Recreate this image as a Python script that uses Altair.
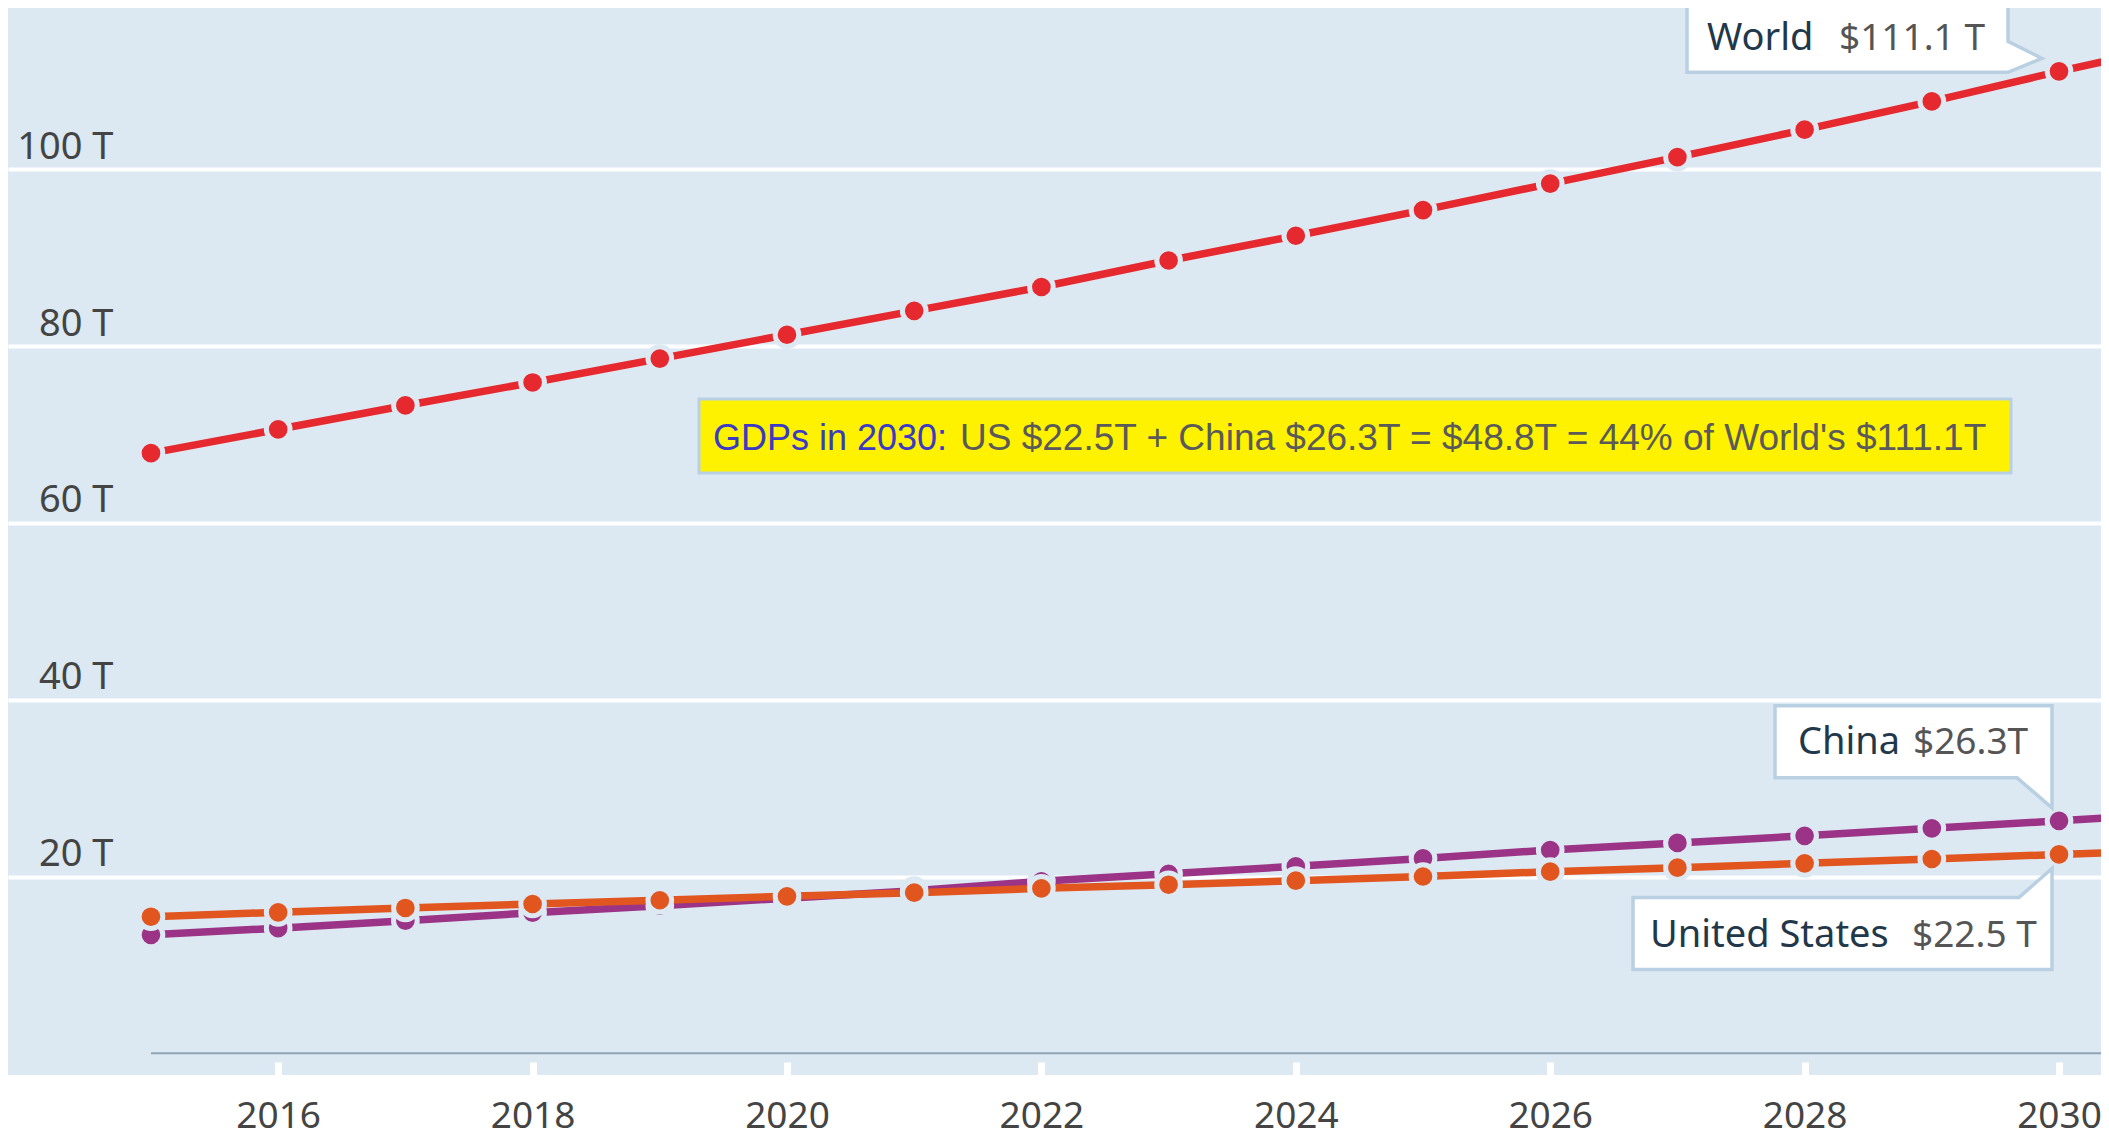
import altair as alt
import pandas as pd

# ---------------- data ----------------
years = list(range(2015, 2032))
world = [67.9, 70.6, 73.3, 75.9, 78.6, 81.3, 84.0, 86.7, 89.7, 92.5, 95.4, 98.4, 101.4, 104.5, 107.7, 111.1, 114.3]
china = [13.4, 14.15, 15.0, 15.9, 16.7, 17.55, 18.4, 19.45, 20.3, 21.15, 22.05, 23.0, 23.8, 24.6, 25.45, 26.3, 27.2]
usa = [15.45, 15.95, 16.44, 16.89, 17.31, 17.76, 18.17, 18.66, 19.07, 19.53, 20.0, 20.55, 21.0, 21.49, 21.98, 22.5, 23.0]

series_names = ["World", "China", "United States"]
series_values = [world, china, usa]
series_colors = ["#e6282f", "#9b3486", "#e1551f"]
callout_values = ["$111.1 T", "$26.3T", "$22.5 T"]
callout_year = 2030

y_ticks = [20, 40, 60, 80, 100]
x_ticks = [2016, 2018, 2020, 2022, 2024, 2026, 2028, 2030]

note_head = "GDPs in 2030:"
note_body = "US $22.5T + China $26.3T = $48.8T = 44% of World's $111.1T"

# ---------------- styling ----------------
BG = "#dde9f2"
BORDER = "#b9d0e2"
FONT = "Noto Sans"
W, H = 2093, 1067

rows = []
for name, vals in zip(series_names, series_values):
    for yr, v in zip(years, vals):
        rows.append({"year": yr, "value": v, "series": name})
df = pd.DataFrame(rows)

xscale = alt.Scale(domain=[2013.876, 2030.33], nice=False, zero=False)
yscale = alt.Scale(domain=[-2.46, 118.27], nice=False, zero=False)

xaxis = alt.Axis(values=x_ticks, format="d", grid=False, domain=False, ticks=True,
                 tickColor="white", tickWidth=7, tickSize=13, offset=-13,
                 labelPadding=52, labelBaseline="alphabetic", labelFont=FONT,
                 labelFontSize=37, labelColor="#444444", title=None)
yaxis = alt.Axis(values=y_ticks, labelExpr="datum.value + ' T'", grid=True,
                 gridColor="white", gridWidth=4, domain=False, ticks=False, tickSize=0,
                 labelAlign="right", labelBaseline="alphabetic", labelPadding=-105,
                 labelOffset=-11, labelFont=FONT, labelFontSize=38,
                 labelColor="#444444", title=None)

X = alt.X("year:Q", scale=xscale, axis=xaxis)
Y = alt.Y("value:Q", scale=yscale, axis=yaxis)

layers = []

# zero baseline
base_df = pd.DataFrame({"year": [years[0]], "year2": [years[-1]], "value": [0]})
layers.append(alt.Chart(base_df).mark_rule(color="#8fa5b5", strokeWidth=2, clip=True).encode(
    x=X, x2="year2:Q", y=Y))

# yellow note box
note_df = pd.DataFrame({"head": [note_head], "body": [note_body]})
layers.append(alt.Chart(note_df).mark_rect(fill="#fff200", stroke=BORDER, strokeWidth=3).encode(
    x=alt.value(691), x2=alt.value(2003), y=alt.value(391), y2=alt.value(465)))
layers.append(alt.Chart(note_df).mark_text(font="Liberation Sans", fontSize=36, color="#3a3ac4",
                                           align="left", baseline="alphabetic").encode(
    x=alt.value(705), y=alt.value(442), text="head:N"))
layers.append(alt.Chart(note_df).mark_text(font="Liberation Sans", fontSize=37, color="#5a5a5a",
                                           align="left", baseline="alphabetic").encode(
    x=alt.value(952), y=alt.value(442), text="body:N"))

# series lines + points (World, China, United States drawn in that order)
for name, col in zip(series_names, series_colors):
    sub = alt.Chart(df).transform_filter(alt.datum.series == name)
    layers.append(sub.mark_line(color=col, strokeWidth=7.5, clip=True).encode(x=X, y=Y))
    layers.append(sub.mark_circle(size=560, fill=col, stroke=BG, strokeWidth=5,
                                  opacity=1, clip=True).encode(x=X, y=Y))

# callouts: outline path in pixels relative to the 2030 point (scaled by r=100)
def path(pts):
    s = "M " + " L ".join(f"{px/100:.3f} {py/100:.3f}" for px, py in pts) + " Z"
    return s

callout_shapes = [
    [(-372, -68), (-51, -68), (-51, -30), (-17, -13), (-51, 1), (-372, 1)],
    [(-284, -115), (-7, -115), (-7, -13), (-42, -43), (-284, -43)],
    [(-426, 43), (-40, 43), (-7, 14), (-7, 115), (-426, 115)],
]
name_offsets = [(-352, -21), (-261, -67), (-409, 93)]
value_dx = [-220, -146, -147]

for i, name in enumerate(series_names):
    cdf = df[(df.series == name) & (df.year == callout_year)].copy()
    cdf["valtext"] = callout_values[i]
    c = alt.Chart(cdf)
    layers.append(c.mark_point(shape=path(callout_shapes[i]), size=40000, filled=True,
                               fill="white", stroke=BORDER, strokeWidth=3.5,
                               opacity=1).encode(x=X, y=Y))
    layers.append(c.mark_text(font=FONT, fontSize=38, color="#22384a", align="left",
                              baseline="alphabetic", dx=name_offsets[i][0],
                              dy=name_offsets[i][1]).encode(x=X, y=Y, text="series:N"))
    layers.append(c.mark_text(font=FONT, fontSize=37, color="#555555", align="left",
                              baseline="alphabetic", dx=value_dx[i],
                              dy=name_offsets[i][1]).encode(x=X, y=Y, text="valtext:N"))

chart = alt.layer(*layers).properties(
    width=W, height=H,
    background="white",
    autosize=alt.AutoSizeParams(type="none"),
    padding={"left": 0, "top": 0, "right": 0, "bottom": 62},
).configure_view(fill=BG, stroke=None)

chart.save("out.html", embed_options={"renderer": "svg", "actions": False})
